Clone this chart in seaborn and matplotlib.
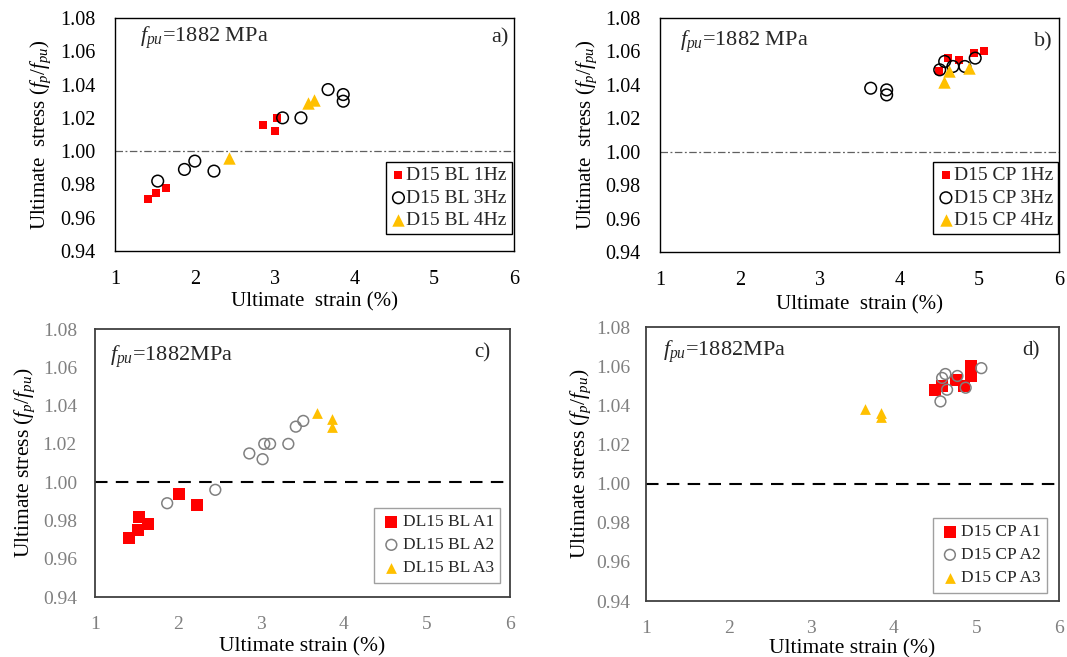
import matplotlib
matplotlib.use("Agg")
import matplotlib.pyplot as plt
import seaborn as sns
import numpy as np

sns.set_theme(style="white")
plt.rcParams['font.family'] = ['Liberation Serif', 'DejaVu Serif']
plt.rcParams['mathtext.fontset'] = 'custom'
plt.rcParams['mathtext.rm'] = 'Liberation Serif'
plt.rcParams['mathtext.it'] = 'Liberation Serif:italic'

# ---------------- data ----------------
# panel a) D15 BL
a_1hz_x = [1.41, 1.51, 1.64, 2.86, 3.01, 3.03]
a_1hz_y = [0.971, 0.975, 0.978, 1.016, 1.012, 1.020]
a_3hz_x = [1.535, 1.87, 2.00, 2.24, 3.10, 3.33, 3.67, 3.86, 3.86]
a_3hz_y = [0.982, 0.989, 0.994, 0.988, 1.020, 1.020, 1.037, 1.034, 1.030]
a_4hz_x = [2.43, 3.42, 3.49]
a_4hz_y = [0.996, 1.029, 1.031]

# panel b) D15 CP
b_1hz_x = [4.50, 4.61, 4.75, 4.94, 5.06]
b_1hz_y = [1.048, 1.056, 1.055, 1.059, 1.060]
b_3hz_x = [3.64, 3.84, 3.84, 4.505, 4.567, 4.67, 4.82, 4.95]
b_3hz_y = [1.038, 1.037, 1.034, 1.049, 1.054, 1.051, 1.051, 1.056]
b_4hz_x = [4.56, 4.62, 4.87]
b_4hz_y = [1.042, 1.048, 1.050]

# panel c) DL15 BL
c_a1_x = [1.41, 1.52, 1.53, 1.64, 2.01, 2.23]
c_a1_y = [0.971, 0.975, 0.982, 0.978, 0.994, 0.988]
c_a2_x = [1.87, 2.45, 2.86, 3.02, 3.04, 3.11, 3.33, 3.42, 3.51]
c_a2_y = [0.989, 0.996, 1.015, 1.012, 1.020, 1.020, 1.020, 1.029, 1.032]
c_a3_x = [3.67, 3.86, 3.86]
c_a3_y = [1.036, 1.033, 1.029]

# panel d) D15 CP
d_a1_x = [4.50, 4.585, 4.75, 4.85, 4.94, 4.94]
d_a1_y = [1.048, 1.050, 1.053, 1.050, 1.055, 1.060]
d_a2_x = [4.565, 4.585, 4.625, 4.645, 4.77, 4.87, 5.06]
d_a2_y = [1.042, 1.054, 1.056, 1.048, 1.055, 1.049, 1.059]
d_a3_x = [3.65, 3.84, 3.84]
d_a3_y = [1.038, 1.036, 1.034]

labels_a = ["D15 BL 1Hz", "D15 BL 3Hz", "D15 BL 4Hz"]
labels_b = ["D15 CP 1Hz", "D15 CP 3Hz", "D15 CP 4Hz"]
labels_c = ["DL15 BL A1", "DL15 BL A2", "DL15 BL A3"]
labels_d = ["D15 CP A1", "D15 CP A2", "D15 CP A3"]

x_ticks = [1, 2, 3, 4, 5, 6]
y_ticks = [0.94, 0.96, 0.98, 1.00, 1.02, 1.04, 1.06, 1.08]

RED = "#ff0000"
GOLD = "#ffc000"

fig = plt.figure(figsize=(10.67, 6.57), dpi=100)
ax_a = fig.add_axes([0.1078, 0.6180, 0.3739, 0.3546])
ax_b = fig.add_axes([0.6186, 0.6164, 0.3739, 0.3562])
ax_c = fig.add_axes([0.0890, 0.0913, 0.3889, 0.4079])
ax_d = fig.add_axes([0.6054, 0.0852, 0.3871, 0.4170])


def draw_top(ax, d1, d3, d4, labels, letter, fpu_xy, let_xy, leg_xy, ylab_x, xlab_y):
    sns.scatterplot(x=d1[0], y=d1[1], ax=ax, marker="s", s=36, color=RED,
                    edgecolor=RED, linewidth=0, label=labels[0], zorder=3)
    sns.scatterplot(x=d3[0], y=d3[1], ax=ax, marker="o", s=70, color="black",
                    facecolor="none", edgecolor="black", linewidth=1.1,
                    label=labels[1], zorder=4)
    sns.scatterplot(x=d4[0], y=d4[1], ax=ax, marker="^", s=80, color=GOLD,
                    edgecolor=GOLD, linewidth=0, label=labels[2], zorder=5)
    ax.axhline(1.0, color="#606060", lw=0.9, ls=(0, (6, 2, 1.5, 2)), zorder=1)
    ax.set_xlim(1, 6)
    ax.set_ylim(0.94, 1.08)
    ax.set_xticks(x_ticks)
    ax.set_yticks(y_ticks)
    ax.set_yticklabels([f"{v:.2f}" for v in y_ticks])
    ax.tick_params(axis="both", direction="in", length=5, width=0.8,
                   labelsize=14.5, colors="black")
    ax.tick_params(axis="y", pad=14)
    ax.tick_params(axis="x", pad=14)
    for sp in ax.spines.values():
        sp.set_color("black")
        sp.set_linewidth(1.0)
    ax.set_xlabel("Ultimate  strain (%)", fontsize=15, color="black")
    ax.set_ylabel(r"Ultimate  stress ($f_p/f_{pu}$)", fontsize=15, color="black")
    ax.yaxis.set_label_coords(ylab_x, 0.5)
    ax.xaxis.set_label_coords(0.5, xlab_y)
    ax.text(fpu_xy[0], fpu_xy[1], r"$f_{pu}$=1882 MPa", transform=ax.transAxes,
            fontsize=16, va="center", ha="left")
    ax.text(let_xy[0], let_xy[1], letter, transform=ax.transAxes,
            fontsize=16, va="center", ha="right")
    leg = ax.legend(loc="upper right", bbox_to_anchor=leg_xy, borderaxespad=0,
                    fontsize=14, frameon=True, fancybox=False, edgecolor="black",
                    handletextpad=0.0, labelspacing=0.25, borderpad=0.25,
                    handlelength=0.8)
    leg.get_frame().set_linewidth(1.0)
    leg.get_frame().set_alpha(1)


def draw_bottom(ax, d1, d2, d3, labels, letter, fpu_xy, let_xy, leg_xy, ylab_x, xlab_y, ypad):
    sns.scatterplot(x=d1[0], y=d1[1], ax=ax, marker="s", s=80, color=RED,
                    edgecolor=RED, linewidth=0, label=labels[0], zorder=3)
    sns.scatterplot(x=d2[0], y=d2[1], ax=ax, marker="o", s=60, color="#808080",
                    facecolor="none", edgecolor="#808080", linewidth=1.1,
                    label=labels[1], zorder=4)
    sns.scatterplot(x=d3[0], y=d3[1], ax=ax, marker="^", s=60, color=GOLD,
                    edgecolor=GOLD, linewidth=0, label=labels[2], zorder=5)
    ax.axhline(1.0, color="black", lw=1.5, ls=(0, (6, 4)), zorder=1)
    ax.set_xlim(1, 6)
    ax.set_ylim(0.94, 1.08)
    ax.set_xticks(x_ticks)
    ax.set_yticks(y_ticks)
    ax.set_yticklabels([f"{v:.2f}" for v in y_ticks])
    ax.tick_params(axis="x", direction="in", length=4, width=0.8,
                   labelsize=14, colors="#404040", labelcolor="#808080", pad=14)
    ax.tick_params(axis="y", direction="out", length=4, width=0.8,
                   labelsize=14, colors="#404040", labelcolor="#808080", pad=ypad)
    for sp in ax.spines.values():
        sp.set_color("#404040")
        sp.set_linewidth(1.3)
    ax.set_xlabel("Ultimate strain (%)", fontsize=15.5, color="black")
    ax.set_ylabel(r"Ultimate stress ($f_p/f_{pu}$)", fontsize=15.5, color="black")
    ax.yaxis.set_label_coords(ylab_x, 0.5)
    ax.xaxis.set_label_coords(0.5, xlab_y)
    ax.text(fpu_xy[0], fpu_xy[1], r"$f_{pu}$=1882MPa", transform=ax.transAxes,
            fontsize=16, va="center", ha="left")
    ax.text(let_xy[0], let_xy[1], letter, transform=ax.transAxes,
            fontsize=15, va="center", ha="right")
    leg = ax.legend(loc="upper right", bbox_to_anchor=leg_xy, borderaxespad=0,
                    fontsize=12.5, frameon=True, fancybox=False, edgecolor="#a0a0a0",
                    handletextpad=0.0, labelspacing=0.4, borderpad=0.35,
                    handlelength=1.3)
    leg.get_frame().set_linewidth(1.0)
    leg.get_frame().set_alpha(1)


draw_top(ax_a, (a_1hz_x, a_1hz_y), (a_3hz_x, a_3hz_y), (a_4hz_x, a_4hz_y), labels_a,
         "a)", (0.063, 0.914), (0.987, 0.914), (0.994, 0.382), -0.155, -0.176)
draw_top(ax_b, (b_1hz_x, b_1hz_y), (b_3hz_x, b_3hz_y), (b_4hz_x, b_4hz_y), labels_b,
         "b)", (0.05, 0.899), (0.985, 0.899), (0.997, 0.385), -0.152, -0.184)
draw_bottom(ax_c, (c_a1_x, c_a1_y), (c_a2_x, c_a2_y), (c_a3_x, c_a3_y), labels_c,
            "c)", (0.036, 0.897), (0.952, 0.91), (0.976, 0.332), -0.140, -0.149, 9)
draw_bottom(ax_d, (d_a1_x, d_a1_y), (d_a2_x, d_a2_y), (d_a3_x, d_a3_y), labels_d,
            "d)", (0.041, 0.91), (0.952, 0.913), (0.971, 0.303), -0.128, -0.139, 7)

fig.savefig("out.png", dpi=100)
